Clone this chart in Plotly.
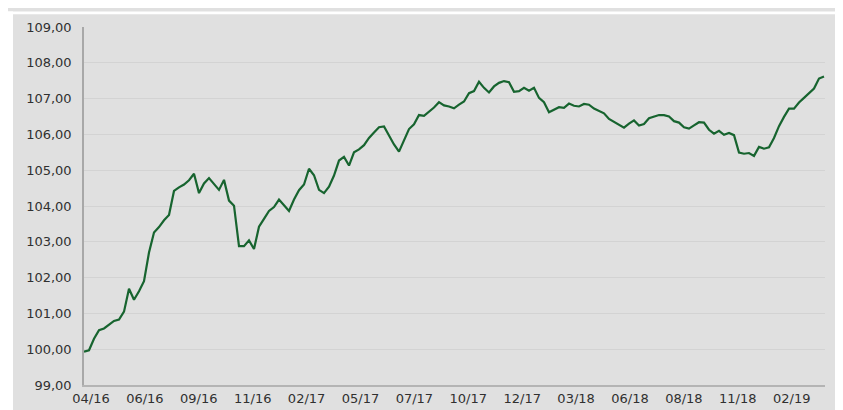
import plotly.graph_objects as go

# Index values, sampled evenly along the period 04/2016 - 03/2019
values = [
    99.93, 99.97, 100.29, 100.53, 100.58, 100.69, 100.79, 100.83, 101.05, 101.69,
    101.38, 101.62, 101.90, 102.70, 103.26, 103.41, 103.60, 103.75, 104.42, 104.52,
    104.60, 104.72, 104.90, 104.36, 104.63, 104.78, 104.60, 104.45, 104.73, 104.15,
    104.01, 102.88, 102.88, 103.04, 102.80, 103.42, 103.64, 103.86, 103.97, 104.18,
    104.02, 103.86, 104.18, 104.44, 104.60, 105.04, 104.86, 104.45, 104.36, 104.54,
    104.85, 105.27, 105.37, 105.13, 105.50, 105.58, 105.70, 105.90, 106.05, 106.20,
    106.22, 105.95, 105.72, 105.52, 105.86, 106.15, 106.28, 106.54, 106.52, 106.63,
    106.75, 106.90, 106.81, 106.78, 106.73, 106.83, 106.92, 107.15, 107.21, 107.47,
    107.30, 107.17, 107.34, 107.44, 107.49, 107.46, 107.19, 107.21, 107.30, 107.22,
    107.30, 107.02, 106.90, 106.62, 106.70, 106.76, 106.74, 106.86, 106.80, 106.78,
    106.85, 106.83, 106.72, 106.65, 106.59, 106.43, 106.35, 106.28, 106.19, 106.30,
    106.39, 106.25, 106.29, 106.45, 106.49, 106.54, 106.54, 106.50, 106.37, 106.33,
    106.20, 106.16, 106.25, 106.34, 106.33, 106.13, 106.02, 106.10, 105.99, 106.04,
    105.98, 105.49, 105.46, 105.48, 105.40, 105.65, 105.60, 105.64, 105.90, 106.23,
    106.49, 106.72, 106.72, 106.89, 107.02, 107.14, 107.28, 107.56, 107.62,
]
tick_labels = ["04/16", "06/16", "09/16", "11/16", "02/17", "05/17", "07/17",
               "10/17", "12/17", "03/18", "06/18", "08/18", "11/18", "02/19"]
y_ticks = [99, 100, 101, 102, 103, 104, 105, 106, 107, 108, 109]

x = list(range(len(values)))
tick_pos = [1.4 + 10.78 * i for i in range(len(tick_labels))]

W, H = 843, 410
ml, mr, mt, mb = 76, 26, 16, 26
pw, ph = W - ml - mr, H - mt - mb

BG = "#e0e0e0"

fig = go.Figure()
fig.add_trace(go.Scatter(
    x=x, y=values, mode="lines",
    line=dict(color="#17642f", width=2.2),
    hoverinfo="skip", showlegend=False,
))

# white strips at the top and left edges of the picture
fig.add_shape(type="rect", xref="paper", yref="paper", layer="below",
              x0=-ml / pw, x1=(W - ml) / pw, y0=1 + (mt - 3) / ph, y1=1 + mt / ph,
              fillcolor="white", line=dict(width=0))
fig.add_shape(type="rect", xref="paper", yref="paper", layer="below",
              x0=-ml / pw, x1=-(ml - 5) / pw, y0=-mb / ph, y1=1 + mt / ph,
              fillcolor="white", line=dict(width=0))

font = dict(family="DejaVu Sans, Verdana, sans-serif", size=13, color="#303030")

fig.update_layout(
    width=W, height=H,
    margin=dict(l=ml, r=mr, t=mt, b=mb, pad=0),
    paper_bgcolor=BG, plot_bgcolor=BG,
    separators=",.",
    showlegend=False,
    xaxis=dict(
        range=[0, len(values) - 1 + 0.2],
        tickmode="array", tickvals=tick_pos, ticktext=tick_labels,
        showgrid=False, zeroline=False,
        showline=True, linecolor="#b4b4b4", linewidth=2,
        ticks="", ticklen=0, tickfont=font, fixedrange=True,
    ),
    yaxis=dict(
        range=[99, 109],
        tickmode="array", tickvals=y_ticks, tickformat=".2f",
        showgrid=True, gridcolor="#d3d3d3", gridwidth=1,
        zeroline=False,
        showline=True, linecolor="#a8a8a8", linewidth=1.5,
        ticks="outside", ticklen=8, tickcolor="rgba(0,0,0,0)",
        tickfont=font, fixedrange=True,
    ),
)

fig.write_html("out.html")
